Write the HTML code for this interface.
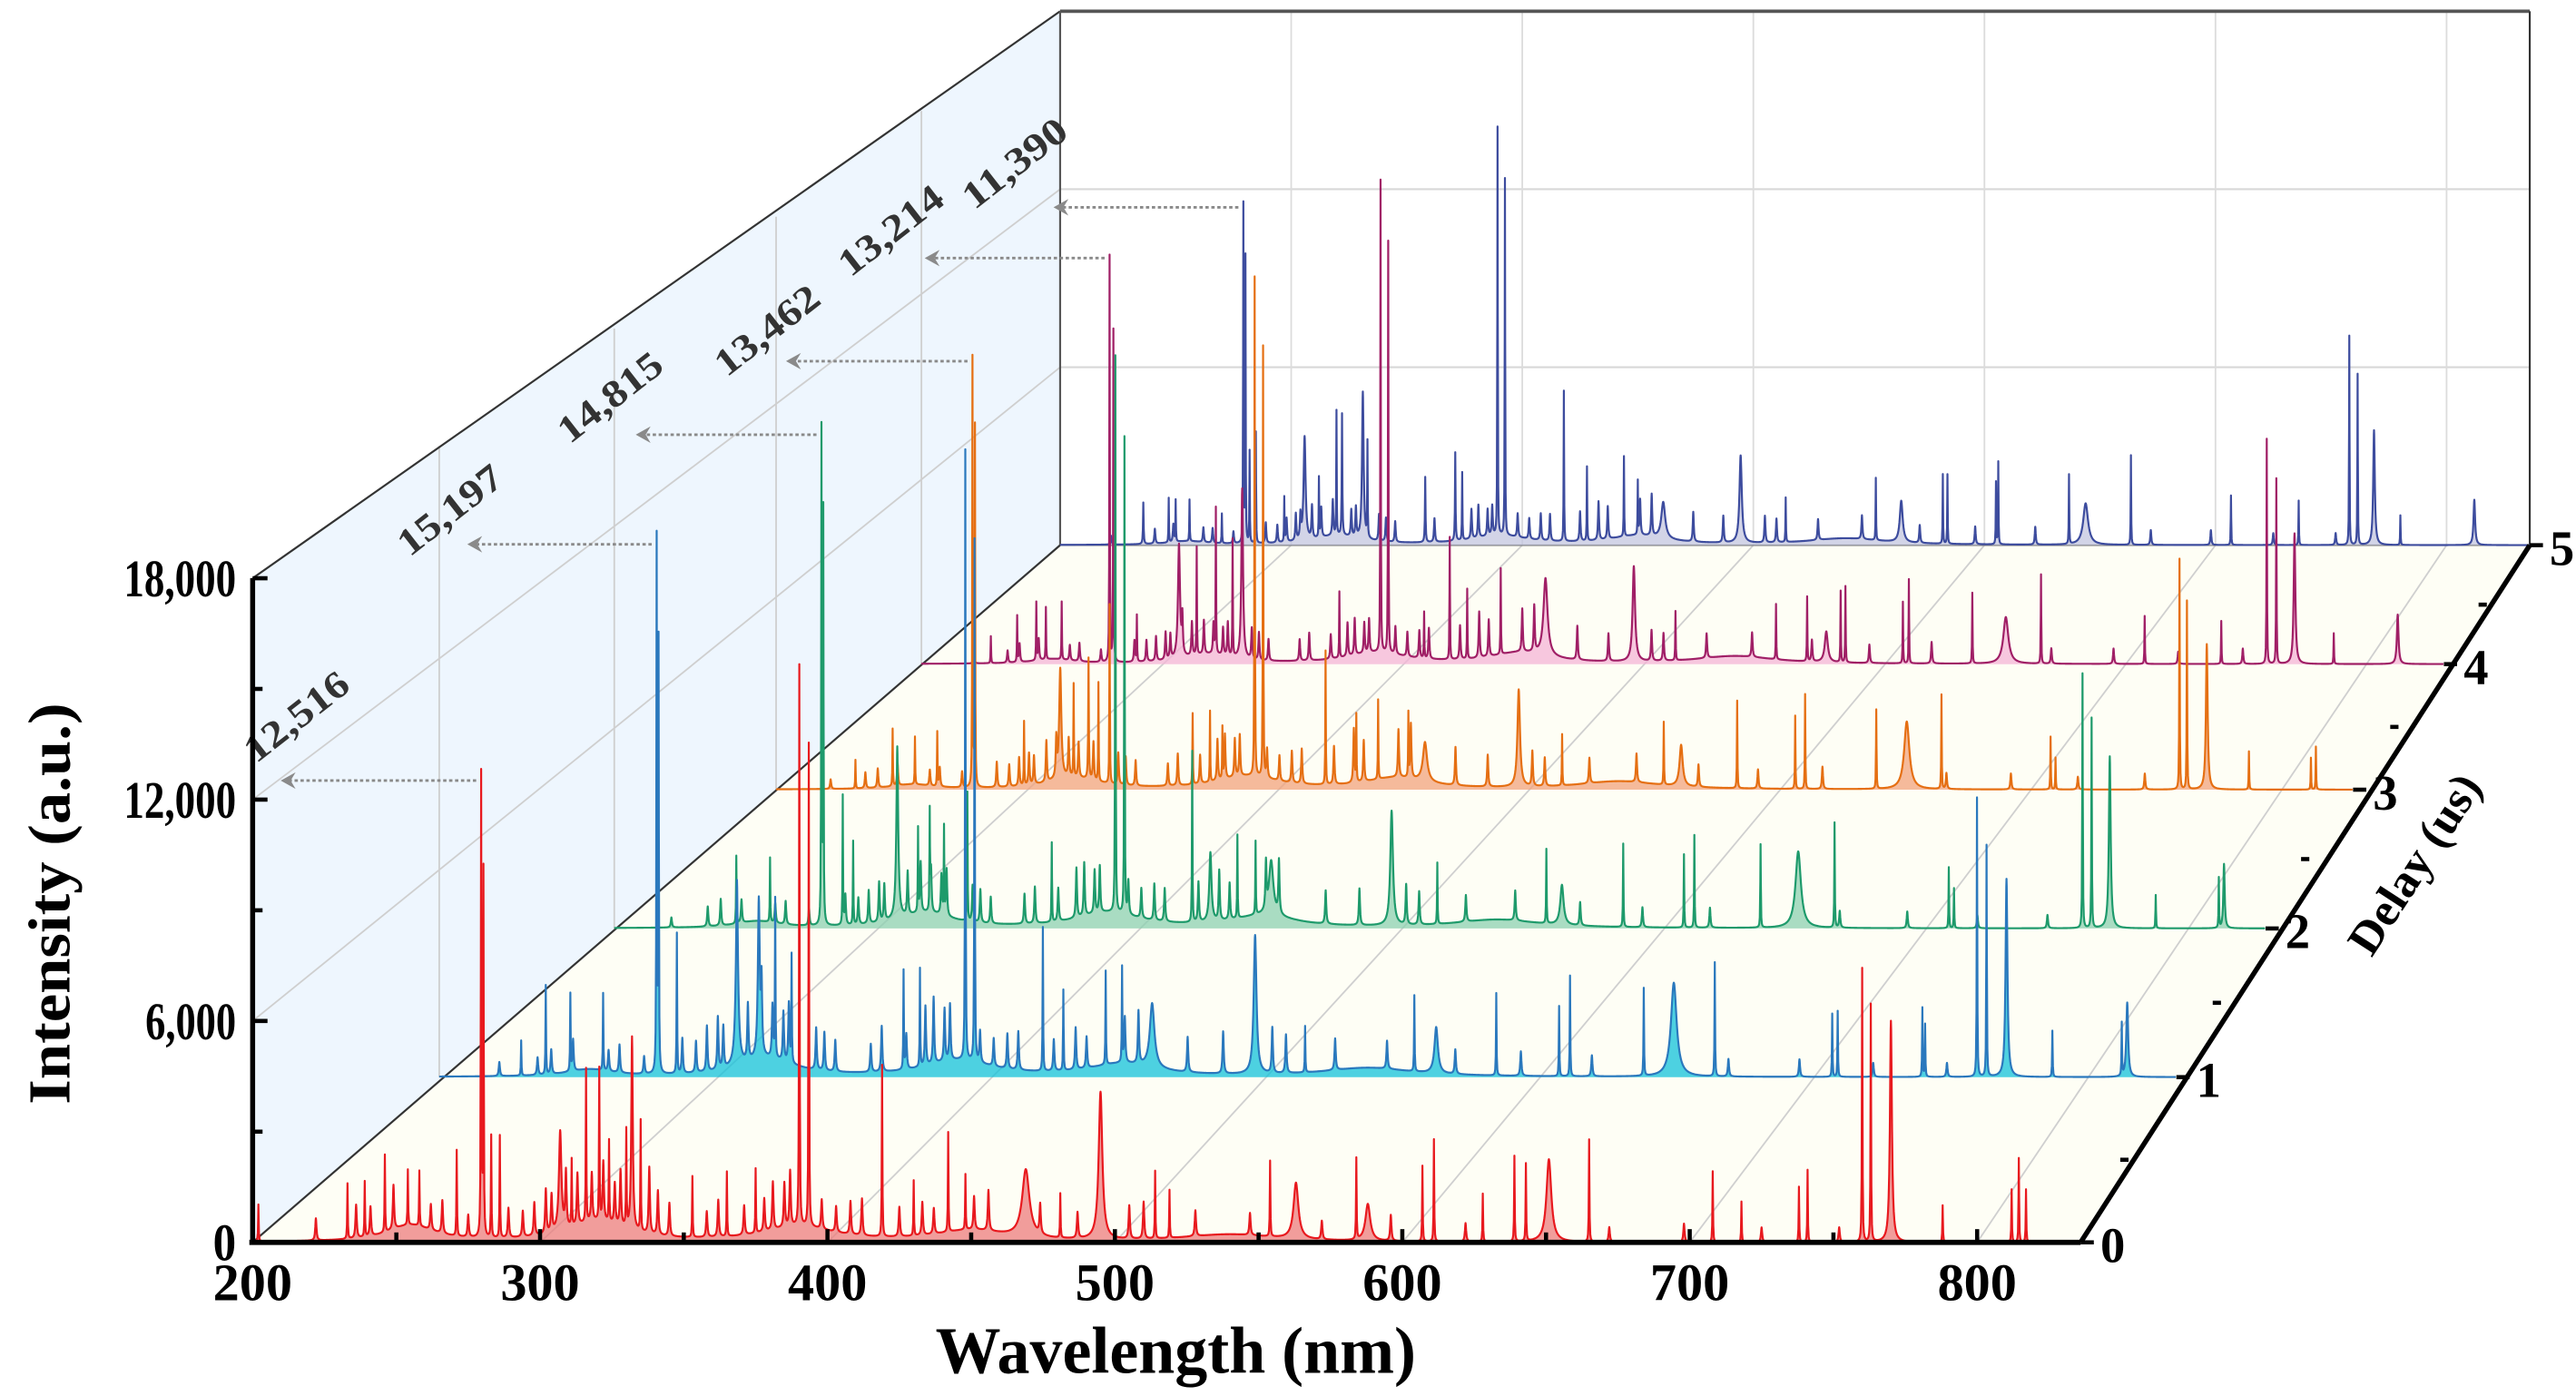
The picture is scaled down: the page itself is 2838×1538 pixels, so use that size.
<!DOCTYPE html>
<html><head><meta charset="utf-8"><title>LIBS spectra vs delay</title>
<style>html,body{margin:0;padding:0;background:#fff;}svg{display:block;}</style></head>
<body>
<svg id="chart" xmlns="http://www.w3.org/2000/svg" width="2838" height="1538" viewBox="0 0 1560 845" preserveAspectRatio="none" font-family="'Liberation Serif', serif" font-weight="bold">
<g id="bg"></g>
<g id="grid"></g>
<g id="series"></g>
<g id="annot"></g>
<g id="axes"></g>
</svg>
<script>
// ---- data ----
const delays = [0, 1, 2, 3, 4, 5];
const xTicks = [200, 300, 400, 500, 600, 700, 800];
const yTicks = [0, 6000, 12000, 18000];
const yTickLabels = ['0', '6,000', '12,000', '18,000'];
const annotLabels = ['12,516', '15,197', '14,815', '13,462', '13,214', '11,390'];

const d0Wave = [202,233,239,246,254,258,271,279.5,280.3,283,286,307,311,316,320.6,324,330,332,335,353,365,375,390.2,393.5,419,430,442,448,469,481,495,514,519,554,563,584,588,607,611,628,639,643,651,665,708,718,738,741,760,763,770,788,812,814.5,817];
const d0Int = [1000,1500,1500,2100,1500,1500,2330,12516,9900,2770,2770,2700,1800,4150,4100,2200,2600,5230,3000,1650,1750,1750,15200,13100,4650,1500,2700,1500,1830,1200,4000,1830,1300,2050,1520,2200,1000,2050,2770,1300,2320,2100,2240,2770,1920,1100,1500,1960,7420,6440,6000,1000,1430,2280,1430];
const d0Broad = {307:1, 332:0.6, 469:3, 495:1.5, 563:2, 588:2, 651:2, 770:0.8};

const d1Wave = [230,239,248,260,279.6,280.3,287,309,317,323,329,370,376,392.6,396,421,428.5,444,450,461,498.7,517,557,565,587,610,614,641,652,667,710,712,743,744,763,766.5,773.8,790.6,816,818];
const d1Int = [1000,2540,2200,2200,15197,12250,4000,3490,4500,4500,3060,2800,2800,17400,14900,4100,2300,2680,2700,1840,3960,1320,2170,1320,2350,2000,2870,2500,2680,3250,1800,1880,1970,1500,7960,6600,5650,1320,1500,2120];
const d1Broad = {309:1.2, 317:0.8, 461:2, 498.7:1.2, 565:1.5, 652:2.5, 773.8:0.8, 818:0.8};

const d2Wave = [247,260,279.8,280.5,288,292,309,317,321.5,327,336,368.5,393,396.5,422.6,429.6,440,447,453,499.4,517,559,565,588.6,612,616,641.5,656,670,714,716,765.5,769,776,793.7,818,820];
const d2Int = [2030,1930,14815,12350,3870,2500,3670,2500,2920,2600,3870,2380,16700,14300,5130,2080,2500,2200,1640,3440,1840,2230,1200,2500,2200,2780,2500,2300,3150,1830,1200,7640,6300,5160,1000,1500,1930];
const d2Broad = {309:1, 429.6:1, 453:2, 499.4:1.2, 565:1.5, 656:2.5, 776:0.8, 820:0.6};

const d3Wave = [232,247,256,265,279.2,280.2,300,314.6,320,326,330,334.5,368,375,380,393,396.4,421.6,434,442.8,455,461.7,499.5,517,558,565,587.6,611,615,643.7,656,670,714,716,766,769,777,794,819,821];
const d3Int = [900,1800,1500,1700,13462,11310,2000,3470,2900,2800,3100,5630,2230,2230,1600,15680,13540,4200,2080,2500,2000,1240,3060,1610,1970,1300,2750,2300,2980,2490,2130,2960,1660,1000,7240,5920,4570,1200,1000,1350];
const d3Broad = {314.6:1, 461.7:2, 499.5:1.2, 565:1.5, 656:2.5, 777:0.8};

const d4Wave = [229,240,248,252,258.6,278.6,280.2,290,307.6,315,323,330,334,374.6,391.8,395,410,420.7,428,442,460.7,497.6,515,557,570,578,584,586,610,612.5,639,653,667.7,711,743,762,766,773.6,790,816.7];
const d4Int = [880,1500,1880,1700,1880,13214,10800,1500,3700,3500,4730,3800,5540,2150,15360,13400,1500,3980,2270,2800,2530,3100,1600,1800,2100,1000,2320,2480,2000,2740,2300,1520,2900,1560,1400,7320,6030,4250,1000,1610];
const d4Broad = {307.6:1, 334:0.8, 460.7:2, 497.6:1.2, 578:1.5, 653:2.5, 773.6:0.8, 816.7:0.8};

const d5Wave = [236,247,250,256,270,279.3,280.2,282,284.7,297,305.8,312,319.6,322,331,333,358,371,374,389.3,392.5,418,428,444,450,461,494.5,514,553,564,582,584,605,606,636.6,643.8,663.4,706.7,736,757.9,761.5,768.6,780,812];
const d5Int = [1000,1500,1400,1400,1000,11390,9600,3100,3760,1500,3500,2000,4180,3000,4960,3200,1600,2280,2280,13750,12030,5070,2500,2700,1800,1230,2950,1500,2100,1400,2340,2340,2100,2780,2340,1400,3020,1670,1500,7050,5760,3870,1000,1530];
const d5Broad = {305.8:1, 331:0.8, 461:2, 494.5:1.2, 564:1.5, 643.8:2.5, 768.6:0.8, 812:0.8};

// weak emission lines (shared positions, per-delay intensities)
const minorWave = [222,236,241,249,262,266,275,289,294,298,302,304,309,313,318,322,326,328,338,341,345,358,362,371,378,381,385,387,398,403,408,412,425,433,437,451,456,474,487,505,510,528,547,572,596,622,672,698,725,752];
const m0Int = [600,900,800,1200,700,900,600,800,700,900,1200,1000,1500,1400,1300,1600,1100,1500,1800,1200,900,700,1000,800,900,1300,1200,1500,800,700,900,1000,800,900,700,900,1100,800,700,900,1000,700,600,500,700,500,400,500,400,400];
const m1Int = [400,500,700,900,600,800,500,1000,900,1300,1500,1200,1800,1600,2000,1500,1400,1700,1200,1100,900,800,1300,1000,1700,1900,1500,1600,900,800,1000,1100,900,1200,900,1300,1500,1000,1200,1300,1100,900,800,700,700,600,500,500,400,400];
const m2Int = [300,600,800,700,600,700,500,900,800,1000,1200,1100,1500,1300,1500,1300,1200,1400,1100,1000,800,900,1100,1000,1500,1600,1300,1400,1000,900,1100,1000,1200,1500,1100,1400,1600,1000,1100,1200,1000,800,900,700,600,600,500,500,400,400];
const m3Int = [300,500,600,700,500,600,500,800,700,900,1000,900,1300,1200,1200,1100,1000,1200,1000,900,800,700,1000,900,1300,1400,1200,1300,900,800,1000,1100,1200,1700,1300,1500,1700,1200,1000,1100,900,800,900,700,600,700,500,500,400,500];
const m4Int = [300,400,600,700,500,600,400,700,700,800,900,800,1200,1100,1100,1000,900,1100,1000,900,700,700,900,800,1100,1200,1000,1100,900,800,900,1000,1100,1500,1200,1400,1500,1100,900,1000,900,800,800,700,600,700,500,500,400,500];
const m5Int = [300,400,500,600,500,500,400,700,600,800,900,800,1100,1000,1200,1100,900,1000,900,800,700,600,800,700,1000,1100,900,1000,800,700,900,900,1000,1300,1100,1200,1400,1000,900,900,800,700,800,600,600,600,500,500,400,400];

// broad continuum humps
const contWave = [255, 320, 390, 450, 540];
const contWidth = [20, 25, 30, 30, 40];
const c0Int = [450, 550, 400, 300, 200];
const c1Int = [200, 500, 450, 350, 250];
const c2Int = [200, 450, 450, 350, 250];
const c3Int = [150, 350, 400, 350, 250];
const c4Int = [150, 300, 350, 350, 250];
const c5Int = [120, 300, 300, 300, 220];

const seriesWave = [d0Wave, d1Wave, d2Wave, d3Wave, d4Wave, d5Wave];
const seriesInt = [d0Int, d1Int, d2Int, d3Int, d4Int, d5Int];
const seriesBroad = [d0Broad, d1Broad, d2Broad, d3Broad, d4Broad, d5Broad];
const seriesMinor = [m0Int, m1Int, m2Int, m3Int, m4Int, m5Int];
const seriesCont = [c0Int, c1Int, c2Int, c3Int, c4Int, c5Int];

// ---- layout (projection of each delay plane) ----
const X0 = [153, 266, 372, 470, 558, 642];
const Y0 = [752, 652, 562, 478, 402, 330];
const WID = [1107, 1052, 1000, 955, 922, 890];
const tipOffset = [17, 17, 13, 6, 2, -4];
const textOffX = [-15, -35, -40, -36, -45, -48];
const textOffY = [-10, 8, 6, 10, 12, 2];
const WMIN = 200, WMAX = 836, IMAX = 18000;
const lineColor = ['#e8191e', '#2a78bd', '#1e9a6b', '#e56f12', '#a01f66', '#3d4c9e'];
const fillColor = ['#ec7c7c', '#12c1d9', '#8cd0b0', '#f2a37c', '#f4b4d6', '#c3c6df'];

const NS = 'http://www.w3.org/2000/svg';
function xOf(d, w) { return X0[d] + (w - WMIN) / (WMAX - WMIN) * WID[d]; }
function yOf(d, v) { return Y0[d] - v * (134 / 6000) * WID[d] / 1107; }
function mk(tag, attrs, parent) {
  const e = document.createElementNS(NS, tag);
  for (const k in attrs) e.setAttribute(k, attrs[k]);
  parent.appendChild(e); return e;
}
const bg = document.getElementById('bg'), grid = document.getElementById('grid'),
      ser = document.getElementById('series'), ann = document.getElementById('annot'),
      axes = document.getElementById('axes');

// walls
let p;
p = mk('polygon', {points: `${X0[5]},${yOf(5,IMAX)} ${xOf(5,WMAX)},${yOf(5,IMAX)} ${xOf(5,WMAX)},${Y0[5]} ${X0[5]},${Y0[5]}`, fill: '#ffffff'}, bg);


p = mk('polygon', {points: `${X0[0]},${Y0[0]} ${X0[0]},${yOf(0,IMAX)} ${X0[5]},${yOf(5,IMAX)} ${X0[5]},${Y0[5]}`, fill: '#eef6fe'}, bg);


p = mk('polygon', {points: `${X0[0]},${Y0[0]} ${xOf(0,WMAX)},${Y0[0]} ${xOf(5,WMAX)},${Y0[5]} ${X0[5]},${Y0[5]}`, fill: '#fefef5'}, bg);



// gridlines
[6000, 12000].forEach(v => {
  const l = mk('line', {x1: X0[5], x2: xOf(5,WMAX), y1: yOf(5,v), y2: yOf(5,v), stroke: '#d8d8d8', 'stroke-width': 1.2}, grid);
  
  
  const l2 = mk('line', {x1: X0[0], x2: X0[5], y1: yOf(0,v), y2: yOf(5,v), stroke: '#cfcfcf', 'stroke-width': 1}, grid);
  
  
});
xTicks.slice(1).forEach(w => {
  const l = mk('line', {x1: xOf(5,w), x2: xOf(5,w), y1: yOf(5,IMAX), y2: Y0[5], stroke: '#dcdcdc', 'stroke-width': 1}, grid);
  
  
  const f = mk('line', {x1: xOf(0,w), x2: xOf(5,w), y1: Y0[0], y2: Y0[5], stroke: '#cfcfcf', 'stroke-width': 1}, grid);
  
  
});
[1,2,3,4].forEach(d => {
  const l = mk('line', {x1: X0[d], x2: X0[d], y1: Y0[d], y2: yOf(d,IMAX), stroke: '#cfcfcf', 'stroke-width': 1}, grid);
  
  
});
let fr;
fr = mk('line', {x1: X0[0], y1: yOf(0,IMAX), x2: X0[5], y2: yOf(5,IMAX), stroke: '#333', 'stroke-width': 1.2}, grid);


fr = mk('line', {x1: X0[5], y1: yOf(5,IMAX), x2: xOf(5,WMAX), y2: yOf(5,IMAX), stroke: '#555', 'stroke-width': 2}, grid);


fr = mk('line', {x1: xOf(5,WMAX), y1: yOf(5,IMAX), x2: xOf(5,WMAX), y2: Y0[5], stroke: '#333', 'stroke-width': 1.2}, grid);


fr = mk('line', {x1: X0[5], y1: yOf(5,IMAX), x2: X0[5], y2: Y0[5], stroke: '#555', 'stroke-width': 1.2}, grid);


fr = mk('line', {x1: X0[0], y1: Y0[0], x2: X0[5], y2: Y0[5], stroke: '#333', 'stroke-width': 1.2}, grid);


fr = mk('line', {x1: X0[5], y1: Y0[5], x2: xOf(5,WMAX), y2: Y0[5], stroke: '#777', 'stroke-width': 1}, grid);



// spectra
function spectrum(d) {
  const br = seriesBroad[d];
  const wv = seriesWave[d].concat(minorWave, contWave);
  const iv = seriesInt[d].concat(seriesMinor[d], seriesCont[d]);
  const g = seriesWave[d].map(c => (br[c] || 0.22) / 2)
    .concat(minorWave.map(() => 0.25), contWidth.map(c => c / 2));
  const pts = [];
  for (let w = WMIN; w <= WMAX + 1e-9; w += 0.2) pts.push(w);
  wv.forEach(c => { pts.push(c); pts.push(c - 0.08); pts.push(c + 0.08); });
  pts.sort((a, b) => a - b);
  return pts.filter(w => w >= WMIN && w <= WMAX).map(w => {
    let s = 0;
    for (let k = 0; k < wv.length; k++) { const u = (w - wv[k]) / g[k]; s += iv[k] / (1 + u * u); }
    return [w, s];
  });
}
for (let d = 5; d >= 0; d--) {
  const sp = spectrum(d);
  let path = '';
  sp.forEach((q, i) => { path += (i ? 'L' : 'M') + xOf(d, q[0]).toFixed(2) + ' ' + yOf(d, q[1]).toFixed(2); });
  const grp = mk('g', {}, ser);
  
  
  const area = mk('path', {d: path + `L${xOf(d,WMAX)} ${Y0[d]}L${xOf(d,WMIN)} ${Y0[d]}Z`, fill: fillColor[d], 'fill-opacity': 0.75}, grp);
  
  
  const ln = mk('path', {d: path, fill: 'none', stroke: lineColor[d], 'stroke-width': 1.2, 'stroke-linejoin': 'round'}, grp);
  
  
}

// annotations (Mg II line maximum per delay)
delays.forEach(d => {
  const wv = seriesWave[d], iv = seriesInt[d];
  let bi = -1;
  wv.forEach((w, k) => { if (w > 277 && w < 282 && (bi < 0 || iv[k] > iv[bi])) bi = k; });
  const y = yOf(d, iv[bi]);
  const xs = xOf(d, wv[bi]) - 3, xt = X0[d] + tipOffset[d];
  const a = mk('line', {x1: xs, y1: y, x2: xt + 6, y2: y, stroke: '#8a8a8a', 'stroke-width': 1.6, 'stroke-dasharray': '2 1.6'}, ann);
  
  
  const h = mk('path', {d: `M${xt} ${y} L${xt + 9} ${y - 5} L${xt + 6} ${y} L${xt + 9} ${y + 5} Z`, fill: '#8a8a8a'}, ann);
  
  
  const tx = xt + textOffX[d], ty = y + textOffY[d];
  const t = mk('text', {x: tx, y: ty, 'font-size': 23, fill: '#333', transform: `rotate(-38 ${tx} ${ty})`, textLength: 74, lengthAdjust: 'spacingAndGlyphs'}, ann);
  t.textContent = annotLabels[d];
  
  
});

// axes
let ax;
ax = mk('line', {x1: X0[0], y1: Y0[0], x2: X0[0], y2: yOf(0,IMAX), stroke: '#000', 'stroke-width': 3}, axes);


ax = mk('line', {x1: X0[0] - 2, y1: Y0[0], x2: xOf(0,WMAX), y2: Y0[0], stroke: '#000', 'stroke-width': 3.2}, axes);


ax = mk('line', {x1: xOf(0,WMAX), y1: Y0[0], x2: xOf(5,WMAX), y2: Y0[5], stroke: '#000', 'stroke-width': 3}, axes);



for (let v = 0; v <= IMAX; v += 3000) {
  const maj = v % 6000 === 0;
  const tk = mk('line', {x1: X0[0], x2: X0[0] + (maj ? 9 : 6), y1: yOf(0,v), y2: yOf(0,v), stroke: '#000', 'stroke-width': 2.5}, axes);
  
  
}
yTicks.forEach((v, i) => {
  const lbl = yTickLabels[i];
  const t = mk('text', {x: 143, y: yOf(0,v) + 11, 'font-size': 32, 'text-anchor': 'end', textLength: lbl.length === 1 ? 14 : lbl.length === 5 ? 55 : 68, lengthAdjust: 'spacingAndGlyphs'}, axes);
  t.textContent = lbl;
  
  
});
for (let w = 200; w <= 800; w += 50) {
  const maj = w % 100 === 0;
  const tk = mk('line', {x1: xOf(0,w), x2: xOf(0,w), y1: Y0[0], y2: Y0[0] - (maj ? 8 : 6), stroke: '#000', 'stroke-width': 2.5}, axes);
  
  
}
xTicks.forEach(w => {
  const t = mk('text', {x: xOf(0,w), y: 787, 'font-size': 32, 'text-anchor': 'middle', textLength: 48, lengthAdjust: 'spacingAndGlyphs'}, axes);
  t.textContent = String(w);
  
  
});
delays.forEach(d => {
  const x = xOf(d,WMAX), y = Y0[d];
  const tk = mk('line', {x1: x, x2: x + 8, y1: y, y2: y, stroke: '#000', 'stroke-width': 2.5}, axes);
  
  
  const t = mk('text', {x: x + 12, y: y + 12, 'font-size': 30}, axes);
  t.textContent = String(delays[d]);
  
  
});
for (let d = 0; d < 5; d++) {
  const x = (xOf(d,WMAX) + xOf(d+1,WMAX)) / 2, y = (Y0[d] + Y0[d+1]) / 2;
  const tk = mk('line', {x1: x - 5, x2: x, y1: y, y2: y, stroke: '#000', 'stroke-width': 2.5}, axes);
  
  
}
let tt;
tt = mk('text', {x: 712, y: 831, 'font-size': 40, 'text-anchor': 'middle', textLength: 291, lengthAdjust: 'spacingAndGlyphs'}, axes);
tt.textContent = 'Wavelength (nm)';


tt = mk('text', {x: 42, y: 547, 'font-size': 36, 'text-anchor': 'middle', transform: 'rotate(-90 42 547)', textLength: 243, lengthAdjust: 'spacingAndGlyphs'}, axes);
tt.textContent = 'Intensity (a.u.)';


tt = mk('text', {x: 1470, y: 528, 'font-size': 28, 'text-anchor': 'middle', transform: 'rotate(-57 1470 528)', textLength: 124, lengthAdjust: 'spacingAndGlyphs'}, axes);
tt.textContent = 'Delay (us)';


</script>
</body></html>
